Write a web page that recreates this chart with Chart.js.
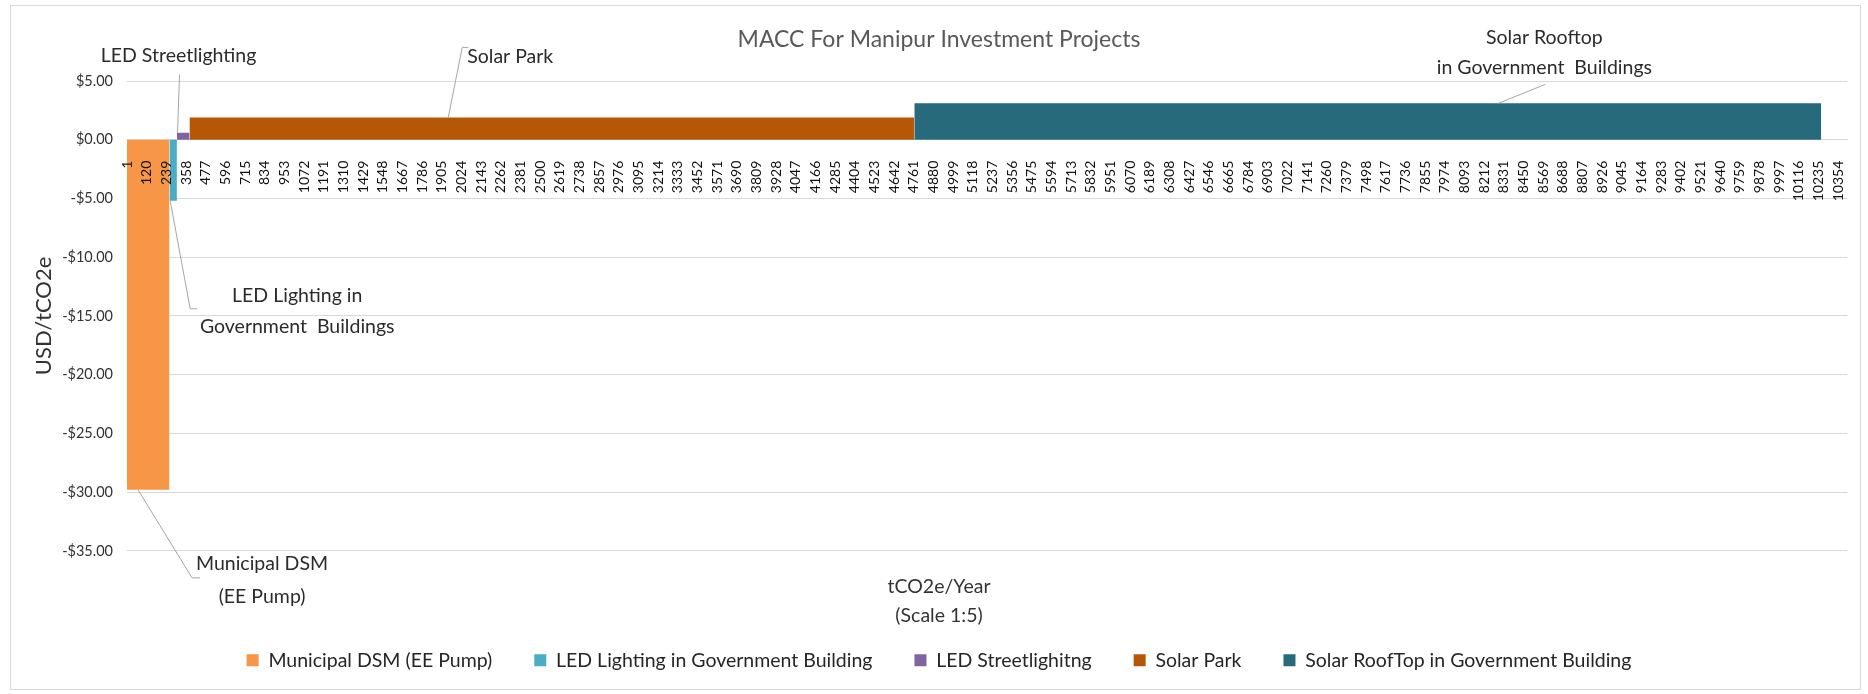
<!DOCTYPE html>
<html>
<head>
<meta charset="UTF-8">
<script src="https://cdn.jsdelivr.net/npm/chart.js"></script>
<style>
    html, body {
        margin: 0;
        padding: 0;
        background: #fff;
    }
    canvas {
        display: block;
    }
</style>
</head>
<body>

<canvas id="macc" width="1868" height="694"></canvas>

<script>
// projects in merit order, cheapest abatement first
const projects = ['Municipal DSM (EE Pump)', 'LED Lighting in Government Building', 'LED Streetlighitng', 'Solar Park', 'Solar RoofTop in Government Building'];
// abatement of each project in tCO2e/year (scale 1:5) -> bar widths
const abatement = [257, 45, 76, 4386, 5488];
// marginal abatement cost in USD/tCO2e -> bar heights
const costs = [-29.8, -5.2, 0.6, 1.9, 3.1];
const colors = ['#F79646', '#4BACC6', '#8064A2', '#B65708', '#276A7C'];

// category labels printed along the x axis
const xTicks = [1, 120, 239, 358, 477, 596, 715, 834, 953, 1072, 1191, 1310, 1429, 1548, 1667, 1786, 1905,
    2024, 2143, 2262, 2381, 2500, 2619, 2738, 2857, 2976, 3095, 3214, 3333, 3452, 3571, 3690, 3809, 3928,
    4047, 4166, 4285, 4404, 4523, 4642, 4761, 4880, 4999, 5118, 5237, 5356, 5475, 5594, 5713, 5832, 5951,
    6070, 6189, 6308, 6427, 6546, 6665, 6784, 6903, 7022, 7141, 7260, 7379, 7498, 7617, 7736, 7855, 7974,
    8093, 8212, 8331, 8450, 8569, 8688, 8807, 8926, 9045, 9164, 9283, 9402, 9521, 9640, 9759, 9878, 9997,
    10116, 10235, 10354];

// data labels with leader lines (offsets in px from the point on the bar)
const callouts = [
    {series: 0, at: 0.26, text: ['Municipal DSM', '(EE Pump)'], path: [[54, 88], [62, 88]], pos: [124, 74], gap: 33},
    {series: 1, at: 0.1, text: ['LED Lighting in', 'Government  Buildings'], path: [[20, 108], [27, 108]], pos: [127, 95], gap: 31},
    {series: 2, at: 0.05, text: ['LED Streetlighting'], path: [[2, -58]], pos: [1, -77], gap: 0},
    {series: 3, at: 0.357, text: ['Solar Park'], path: [[14, -70], [20, -70]], pos: [62, -61], gap: 0},
    {series: 4, at: 0.644, text: ['Solar Rooftop', 'in Government  Buildings'], path: [[47, -19]], pos: [46, -66], gap: 30}
];

Chart.defaults.font.family = 'Lato, "Open Sans", sans-serif';

var starts = [];
var cum = 0;
const datasets = projects.map(function (name, i) {
    starts.push(cum);
    var x0 = cum;
    cum += abatement[i];
    return {
        label: name,
        data: [{x: x0, y: costs[i]}, {x: cum, y: costs[i]}],
        backgroundColor: colors[i],
        borderColor: 'rgba(0,0,0,0)',
        borderWidth: 0,
        fill: 'origin',
        pointRadius: 0,
        pointHoverRadius: 0,
        tension: 0
    };
});

const frame = {
    id: 'frame',
    beforeDraw(chart) {
        const ctx = chart.ctx;
        ctx.save();
        ctx.fillStyle = '#fff';
        ctx.fillRect(0, 0, chart.width, chart.height);
        ctx.strokeStyle = '#d9d9d9';
        ctx.lineWidth = 1;
        ctx.strokeRect(10.5, 5.5, 1850, 684);
        ctx.restore();
    }
};

const calloutPlugin = {
    id: 'callouts',
    afterDatasetsDraw(chart) {
        const ctx = chart.ctx;
        const xs = chart.scales.x, ys = chart.scales.y;
        ctx.save();
        ctx.strokeStyle = '#a6a6a6';
        ctx.lineWidth = 1;
        ctx.fillStyle = '#2b2b2b';
        ctx.font = '19.5px Lato';
        ctx.textAlign = 'center';
        ctx.textBaseline = 'middle';
        callouts.forEach(function (c) {
            const x0 = xs.getPixelForValue(starts[c.series] + abatement[c.series] * c.at);
            const y0 = ys.getPixelForValue(costs[c.series]);
            ctx.beginPath();
            ctx.moveTo(x0, y0);
            c.path.forEach(function (p) { ctx.lineTo(x0 + p[0], y0 + p[1]); });
            ctx.stroke();
            c.text.forEach(function (t, i) {
                ctx.fillText(t, x0 + c.pos[0], y0 + c.pos[1] + i * c.gap);
            });
        });
        ctx.restore();
    }
};

new Chart(document.getElementById('macc'), {
    type: 'line',
    data: {datasets: datasets},
    plugins: [frame, calloutPlugin],
    options: {
        responsive: false,
        animation: false,
        devicePixelRatio: 1,
        layout: {padding: {left: 26, right: 16, top: 0, bottom: 14}},
        plugins: {
            tooltip: {enabled: false},
            title: {
                display: true,
                text: 'MACC For Manipur Investment Projects',
                color: '#595959',
                font: {size: 23, weight: 'normal'},
                padding: {top: 26, bottom: 27.4}
            },
            subtitle: {
                display: true,
                position: 'bottom',
                weight: 500,
                text: ['tCO2e/Year', '(Scale 1:5)'],
                color: '#333',
                font: {size: 19.5, lineHeight: '29px'},
                padding: {top: 21.6, bottom: -22}
            },
            legend: {
                position: 'bottom',
                labels: {
                    boxWidth: 12,
                    boxHeight: 12,
                    padding: 42,
                    color: '#262626',
                    font: {size: 19.5}
                }
            }
        },
        scales: {
            x: {
                type: 'linear',
                position: {y: 0},
                min: 0,
                max: 10410,
                afterBuildTicks: function (s) {
                    s.ticks = xTicks.map(function (v) { return {value: v}; });
                },
                ticks: {
                    z: 1,
                    autoSkip: false,
                    minRotation: 90,
                    maxRotation: 90,
                    padding: 13,
                    color: '#111',
                    font: {size: 14},
                    callback: function (v) { return String(v); }
                },
                grid: {display: false},
                border: {color: '#d9d9d9'}
            },
            y: {
                min: -35,
                max: 5,
                ticks: {
                    stepSize: 5,
                    padding: 14,
                    color: '#333',
                    font: {size: 14.5},
                    callback: function (v) { return (v < 0 ? '-$' : '$') + Math.abs(v).toFixed(2); }
                },
                grid: {color: '#d9d9d9', drawTicks: false},
                border: {display: false},
                title: {
                    display: true,
                    text: 'USD/tCO2e',
                    color: '#333',
                    font: {size: 22},
                    padding: {top: 5, bottom: 0}
                },
                afterFit: function (s) { s.width = 101; }
            }
        }
    }
});
</script>

</body>
</html>
